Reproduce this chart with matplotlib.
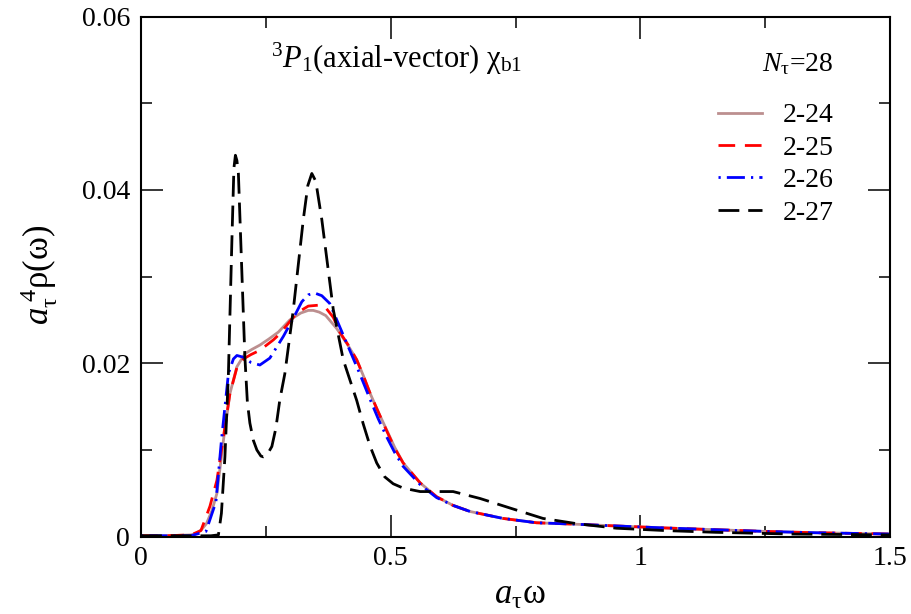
import matplotlib
matplotlib.use("Agg")
import matplotlib.pyplot as plt

plt.rcParams['font.family'] = ['Liberation Serif', 'DejaVu Serif']
plt.rcParams['mathtext.fontset'] = 'custom'
plt.rcParams['mathtext.rm'] = 'Liberation Serif'
plt.rcParams['mathtext.it'] = 'Liberation Serif:italic'

# ---- data ----
w_24 = [0, 0.05, 0.10, 0.111, 0.121, 0.131, 0.142, 0.152, 0.165, 0.178, 0.192, 0.208, 0.222, 0.238, 0.256,
        0.275, 0.298, 0.320, 0.335, 0.345, 0.357, 0.370, 0.392, 0.412, 0.432, 0.445, 0.459, 0.475, 0.492,
        0.508, 0.525, 0.559, 0.592, 0.625, 0.659, 0.725, 0.792, 0.859, 0.952, 1.05, 1.15, 1.25, 1.35, 1.5]
rho_24 = [0.0001, 0.0001, 0.0002, 0.0004, 0.0008, 0.0015, 0.003, 0.005, 0.0111, 0.0165, 0.0196, 0.0211,
          0.0216, 0.0221, 0.0228, 0.0236, 0.0250, 0.0258, 0.0261, 0.0261, 0.0259, 0.0255, 0.0240, 0.0223,
          0.0204, 0.0186, 0.0165, 0.0144, 0.0123, 0.0103, 0.0085, 0.0062, 0.0046, 0.0036, 0.0029, 0.0021,
          0.0016, 0.00146, 0.00123, 0.0010, 0.0008, 0.0006, 0.00045, 0.0003]

w_25 = [0, 0.05, 0.10, 0.12, 0.138, 0.152, 0.165, 0.178, 0.192, 0.205, 0.220, 0.238, 0.265, 0.278, 0.295,
        0.312, 0.335, 0.355, 0.370, 0.385, 0.398, 0.415, 0.432, 0.445, 0.459, 0.475, 0.492, 0.508, 0.525,
        0.559, 0.592, 0.625, 0.659, 0.725, 0.792, 0.859, 0.952, 1.05, 1.15, 1.25, 1.35, 1.5]
rho_25 = [0.0001, 0.0001, 0.0002, 0.0007, 0.0035, 0.0065, 0.0115, 0.0165, 0.0195, 0.0205, 0.0210, 0.0215,
          0.0227, 0.0234, 0.0246, 0.0258, 0.0266, 0.0267, 0.0264, 0.0253, 0.0236, 0.0221, 0.0204, 0.0186,
          0.0165, 0.0144, 0.0122, 0.0102, 0.0085, 0.0062, 0.0046, 0.0036, 0.0029, 0.0021, 0.0016, 0.00146,
          0.00123, 0.0010, 0.0008, 0.0006, 0.00045, 0.0003]

w_26 = [0, 0.05, 0.10, 0.13, 0.15, 0.161, 0.175, 0.185, 0.192, 0.205, 0.220, 0.238, 0.258, 0.285, 0.305,
        0.322, 0.335, 0.348, 0.362, 0.378, 0.398, 0.418, 0.438, 0.459, 0.475, 0.492, 0.508, 0.525, 0.559,
        0.592, 0.625, 0.659, 0.725, 0.792, 0.859, 0.952, 1.05, 1.15, 1.25, 1.35, 1.5]
rho_26 = [0.0001, 0.0001, 0.0001, 0.0006, 0.004, 0.0111, 0.0188, 0.0205, 0.0209, 0.0207, 0.0201, 0.0198,
          0.0206, 0.0231, 0.0252, 0.0271, 0.0279, 0.0281, 0.0278, 0.0269, 0.0242, 0.0215, 0.0188, 0.0158,
          0.0136, 0.0115, 0.0097, 0.0081, 0.0060, 0.0045, 0.0036, 0.0029, 0.0021, 0.0016, 0.00146, 0.00123,
          0.0010, 0.0008, 0.0006, 0.00045, 0.0003]

w_27 = [0, 0.05, 0.10, 0.14, 0.155, 0.161, 0.168, 0.175, 0.182, 0.186, 0.189, 0.192, 0.195, 0.202, 0.208,
        0.213, 0.218, 0.225, 0.232, 0.240, 0.245, 0.252, 0.262, 0.270, 0.278, 0.288, 0.305, 0.325, 0.334,
        0.342, 0.350, 0.362, 0.385, 0.405, 0.432, 0.445, 0.459, 0.472, 0.488, 0.505, 0.525, 0.559, 0.625,
        0.679, 0.739, 0.805, 0.872, 0.952, 1.05, 1.15, 1.3, 1.5]
rho_27 = [0.0001, 0.0001, 0.0001, 0.0001, 0.0002, 0.0027, 0.0092, 0.0188, 0.0342, 0.0425, 0.0440, 0.0434,
          0.0419, 0.0304, 0.0207, 0.0155, 0.0131, 0.0111, 0.0100, 0.0093, 0.0092, 0.0094, 0.0104, 0.0125,
          0.0158, 0.0188, 0.0262, 0.0366, 0.0405, 0.0419, 0.0410, 0.0366, 0.0262, 0.0204, 0.0157, 0.0130,
          0.0104, 0.0085, 0.0069, 0.0061, 0.0056, 0.0052, 0.0052, 0.0044, 0.0033, 0.0021, 0.0015, 0.00097,
          0.0007, 0.0005, 0.0003, 0.0002]

labels = ['2-24', '2-25', '2-26', '2-27']
xticks = [0, 0.5, 1, 1.5]
xticklabels = ['0', '0.5', '1', '1.5']
yticks = [0, 0.02, 0.04, 0.06]
yticklabels = ['0', '0.02', '0.04', '0.06']

fig = plt.figure(figsize=(9.11, 6.14), dpi=100)
ax = fig.add_axes([0.1548, 0.126, 0.8222, 0.847])

lw = 2.0
ax.plot(w_24, rho_24, color='#bc8f8f', lw=lw, label=labels[0])
ax.plot(w_25, rho_25, color='#ff0000', lw=lw, dashes=(6, 3.5), label=labels[1])
ax.plot(w_26, rho_26, color='#0000ff', lw=lw, dashes=(0.8, 2.2, 6.5, 2.2), label=labels[2])
ax.plot(w_27, rho_27, color='#000000', lw=lw, dashes=(7.5, 3.2), label=labels[3])

ax.set_xlim(0, 1.5)
ax.set_ylim(0, 0.06)
ax.set_xticks(xticks)
ax.set_xticklabels(xticklabels)
ax.set_yticks(yticks)
ax.set_yticklabels(yticklabels)
ax.set_xticks([0.25, 0.75, 1.25], minor=True)
ax.set_yticks([0.01, 0.03, 0.05], minor=True)
ax.tick_params(which='both', direction='in', top=True, right=True, width=1.1, labelsize=20)
ax.tick_params(axis='x', pad=7)
ax.tick_params(axis='y', pad=8)
ax.tick_params(which='major', length=16)
ax.tick_params(which='minor', length=8)
for s in ax.spines.values():
    s.set_linewidth(1.5)

ax.set_xlabel(r'$a_{\mathrm{\tau}}$ω', fontsize=25)
ax.xaxis.set_label_coords(0.505, -0.082)
ax.set_ylabel(r'$a_{\mathrm{\tau}}^{\;4}$ρ(ω)', fontsize=25)
ax.yaxis.set_label_coords(-0.108, 0.503)

ax.text(0.341, 0.918, r'$^{3}P_{1}$(axial-vector) χ$_{\mathrm{b1}}$', transform=ax.transAxes,
        fontsize=22, ha='center', va='center')
ax.text(0.8765, 0.908, r'$N_{\mathrm{\tau}}$=28', transform=ax.transAxes,
        fontsize=20, ha='center', va='center')

leg = ax.legend(loc='upper left', bbox_to_anchor=(0.7703, 0.834), frameon=False, fontsize=20,
                handlelength=1.6, handletextpad=0.72, labelspacing=0.25, borderpad=0, borderaxespad=0)

fig.savefig('out.png', dpi=100)
